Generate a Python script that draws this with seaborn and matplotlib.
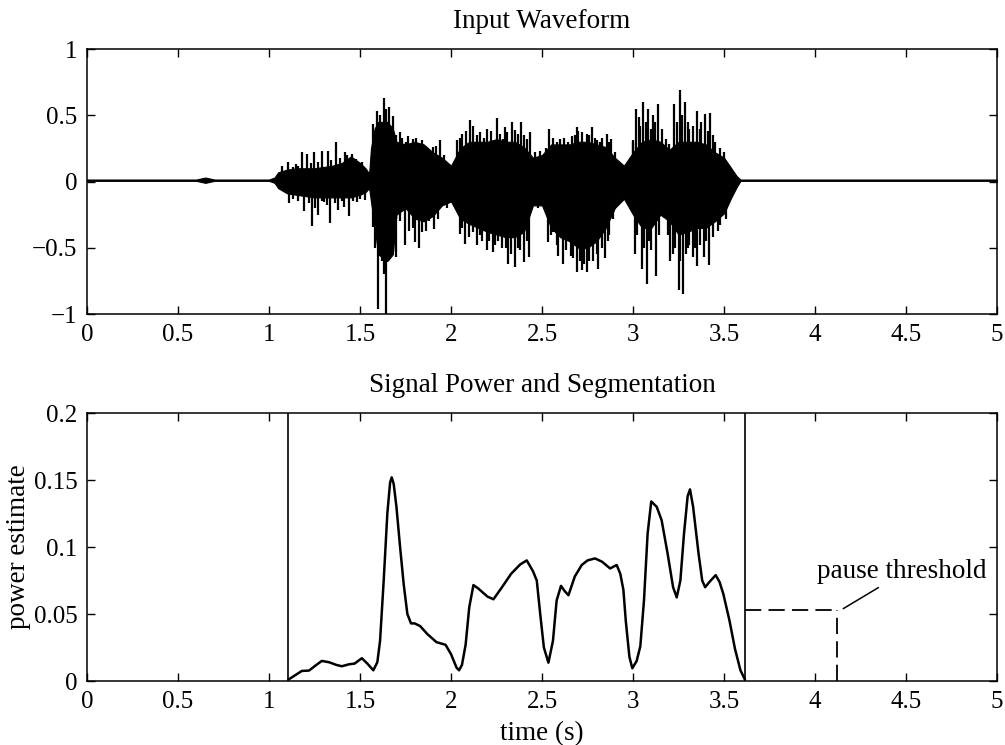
import matplotlib
matplotlib.use("Agg")
import matplotlib.pyplot as plt
import seaborn as sns
import pandas as pd

# ---- waveform (top panel) ----
# dense part of the waveform: upper / lower envelope
band_t = [0.0, 0.6, 0.65, 0.7, 1.0, 1.03, 1.05, 1.10, 1.15, 1.20, 1.25, 1.30, 1.35, 1.40,
          1.45, 1.50, 1.53, 1.55, 1.56, 1.58, 1.60, 1.65, 1.68, 1.70, 1.75, 1.80, 1.85,
          1.90, 1.95, 2.00, 2.05, 2.10, 2.15, 2.20, 2.25, 2.30, 2.35, 2.40, 2.45, 2.50,
          2.55, 2.60, 2.65, 2.70, 2.75, 2.80, 2.85, 2.90, 2.95, 3.00, 3.05, 3.10, 3.15,
          3.20, 3.25, 3.30, 3.35, 3.40, 3.45, 3.50, 3.54, 3.57, 3.59, 4.0, 5.0]
band_hi = [0.015, 0.015, 0.03, 0.015, 0.015, 0.03, 0.07, 0.09, 0.10, 0.10, 0.10, 0.11, 0.12, 0.14,
           0.19, 0.14, 0.10, 0.06, 0.25, 0.40, 0.45, 0.45, 0.40, 0.30, 0.28, 0.30, 0.28,
           0.22, 0.18, 0.12, 0.25, 0.30, 0.30, 0.30, 0.32, 0.30, 0.30, 0.26, 0.18, 0.20,
           0.28, 0.28, 0.28, 0.30, 0.30, 0.28, 0.26, 0.18, 0.12, 0.22, 0.30, 0.32, 0.30,
           0.24, 0.30, 0.30, 0.30, 0.28, 0.22, 0.18, 0.10, 0.04, 0.015, 0.015, 0.015]
band_lo = [0.005, 0.005, -0.01, 0.005, 0.005, -0.01, -0.05, -0.09, -0.10, -0.11, -0.12, -0.12, -0.12, -0.12,
           -0.12, -0.10, -0.08, -0.05, -0.15, -0.35, -0.55, -0.60, -0.55, -0.25, -0.20, -0.28, -0.30,
           -0.26, -0.18, -0.15, -0.28, -0.32, -0.35, -0.38, -0.40, -0.42, -0.42, -0.38, -0.18, -0.18,
           -0.35, -0.42, -0.45, -0.50, -0.50, -0.45, -0.35, -0.20, -0.13, -0.25, -0.35, -0.35, -0.25,
           -0.30, -0.40, -0.38, -0.35, -0.35, -0.30, -0.24, -0.12, -0.04, 0.005, 0.005, 0.005]

# individual peaks sticking out of the dense part
pos_t = [1.103, 1.18, 1.21, 1.249, 1.293, 1.322, 1.368, 1.418, 1.458, 1.509, 1.573, 1.592,
         1.634, 1.66, 1.679, 1.70, 1.72, 1.765, 1.79, 1.84, 1.87, 1.939, 2.031, 2.06, 2.104,
         2.12, 2.16, 2.196, 2.25, 2.288, 2.297, 2.333, 2.35, 2.383, 2.40, 2.434, 2.489, 2.54,
         2.56, 2.60, 2.64, 2.666, 2.694, 2.72, 2.745, 2.773, 2.80, 2.83, 2.855, 2.88, 2.998,
         3.016, 3.035, 3.057, 3.084, 3.11, 3.139, 3.16, 3.225, 3.258, 3.285, 3.31, 3.35,
         3.375, 3.395, 3.423, 3.45,
         1.07, 1.13, 1.15, 1.16, 1.23, 1.27, 1.34, 1.39, 1.43, 1.48, 1.61, 1.645, 1.73, 1.75,
         1.81, 1.82, 1.86, 1.90, 1.92, 1.96, 2.05, 2.08, 2.14, 2.18, 2.22, 2.27, 2.31, 2.37,
         2.42, 2.46, 2.52, 2.58, 2.62, 2.68, 2.70, 2.76, 2.79, 2.82, 2.87, 2.90, 3.00, 3.04,
         3.07, 3.10, 3.12, 3.18, 3.20, 3.24, 3.27, 3.30, 3.33, 3.37, 3.41, 3.44, 3.48, 3.50]
pos_v = [0.146, 0.22, 0.21, 0.226, 0.229, 0.234, 0.297, 0.22, 0.21, 0.146, 0.435, 0.536,
         0.631, 0.56, 0.498, 0.35, 0.37, 0.347, 0.32, 0.31, 0.22, 0.31, 0.31, 0.36, 0.465,
         0.42, 0.372, 0.397, 0.48, 0.32, 0.41, 0.448, 0.39, 0.448, 0.35, 0.372, 0.234, 0.397,
         0.33, 0.32, 0.30, 0.34, 0.41, 0.37, 0.36, 0.41, 0.31, 0.33, 0.36, 0.32, 0.317,
         0.548, 0.486, 0.60, 0.548, 0.50, 0.586, 0.40, 0.586, 0.687, 0.60, 0.40, 0.536,
         0.45, 0.51, 0.516, 0.30,
         0.12, 0.11, 0.13, 0.12, 0.14, 0.15, 0.16, 0.18, 0.20, 0.17, 0.50, 0.55, 0.33, 0.30,
         0.33, 0.28, 0.26, 0.26, 0.27, 0.20, 0.33, 0.38, 0.35, 0.33, 0.38, 0.36, 0.37, 0.36,
         0.32, 0.22, 0.25, 0.30, 0.33, 0.35, 0.38, 0.35, 0.33, 0.30, 0.30, 0.22, 0.30, 0.42,
         0.45, 0.40, 0.45, 0.32, 0.28, 0.45, 0.50, 0.45, 0.42, 0.40, 0.38, 0.35, 0.25, 0.22]
neg_t = [1.11, 1.194, 1.234, 1.27, 1.30, 1.335, 1.377, 1.414, 1.441, 1.482, 1.527, 1.57,
         1.601, 1.62, 1.64, 1.66, 1.68, 1.70, 1.747, 1.77, 1.802, 1.826, 1.86, 1.905, 2.049,
         2.077, 2.10, 2.144, 2.17, 2.196, 2.232, 2.26, 2.28, 2.315, 2.352, 2.38, 2.401, 2.43,
         2.535, 2.56, 2.59, 2.617, 2.66, 2.694, 2.72, 2.749, 2.78, 2.809, 2.846, 2.87, 3.011,
         3.048, 3.075, 3.10, 3.126, 3.203, 3.218, 3.25, 3.277, 3.30, 3.328, 3.35, 3.39,
         3.419, 3.469,
         1.13, 1.16, 1.22, 1.25, 1.29, 1.32, 1.36, 1.40, 1.46, 1.50, 1.58, 1.63, 1.72, 1.79,
         1.84, 1.88, 1.93, 1.98, 2.06, 2.12, 2.16, 2.21, 2.24, 2.30, 2.33, 2.37, 2.42, 2.48,
         2.55, 2.58, 2.63, 2.67, 2.71, 2.73, 2.76, 2.80, 2.83, 2.86, 2.89, 3.02, 3.06, 3.09,
         3.14, 3.19, 3.23, 3.26, 3.29, 3.31, 3.34, 3.37, 3.40, 3.44, 3.48, 3.51]
neg_v = [-0.164, -0.219, -0.332, -0.249, -0.156, -0.314, -0.214, -0.194, -0.264, -0.156, -0.143, -0.345,
         -0.961, -0.60, -1.0, -0.58, -0.53, -0.57, -0.48, -0.37, -0.46, -0.50, -0.37, -0.357, -0.395,
         -0.47, -0.42, -0.48, -0.45, -0.52, -0.53, -0.45, -0.50, -0.62, -0.646, -0.52, -0.61, -0.57,
         -0.46, -0.38, -0.56, -0.62, -0.56, -0.684, -0.67, -0.684, -0.60, -0.66, -0.58, -0.40, -0.55,
         -0.66, -0.77, -0.52, -0.71, -0.60, -0.546, -0.82, -0.85, -0.50, -0.57, -0.634, -0.57,
         -0.63, -0.37,
         -0.13, -0.15, -0.16, -0.20, -0.15, -0.18, -0.16, -0.15, -0.15, -0.13, -0.50, -0.70, -0.30, -0.35,
         -0.38, -0.30, -0.28, -0.20, -0.35, -0.38, -0.40, -0.45, -0.48, -0.50, -0.55, -0.50, -0.45, -0.20,
         -0.40, -0.48, -0.52, -0.58, -0.60, -0.62, -0.60, -0.55, -0.50, -0.45, -0.28, -0.40, -0.50, -0.45,
         -0.40, -0.40, -0.50, -0.60, -0.55, -0.48, -0.50, -0.48, -0.45, -0.42, -0.33, -0.28]

# ---- power estimate (bottom panel) ----
power_t = [1.106, 1.14, 1.18, 1.22, 1.25, 1.29, 1.33, 1.37, 1.40, 1.44, 1.47, 1.51, 1.54, 1.573,
           1.595, 1.61, 1.63, 1.65, 1.665, 1.674, 1.685, 1.70, 1.72, 1.74, 1.76, 1.78, 1.80,
           1.83, 1.87, 1.92, 1.97, 2.00, 2.03, 2.044, 2.06, 2.08, 2.10, 2.123, 2.15, 2.20,
           2.233, 2.28, 2.33, 2.38, 2.416, 2.45, 2.471, 2.49, 2.51, 2.535, 2.56, 2.58, 2.604,
           2.625, 2.645, 2.68, 2.718, 2.75, 2.791, 2.83, 2.874, 2.91, 2.93, 2.947, 2.96, 2.98,
           2.996, 3.02, 3.04, 3.06, 3.08, 3.10, 3.13, 3.157, 3.19, 3.22, 3.24, 3.26, 3.28,
           3.30, 3.313, 3.33, 3.36, 3.38, 3.396, 3.42, 3.454, 3.475, 3.496, 3.53, 3.56, 3.59, 3.615]
power_v = [0.001, 0.004, 0.0075, 0.0078, 0.011, 0.015, 0.014, 0.012, 0.011, 0.0125, 0.013, 0.017, 0.013, 0.008,
           0.014, 0.03, 0.075, 0.125, 0.148, 0.152, 0.147, 0.13, 0.10, 0.072, 0.05, 0.043, 0.043,
           0.041, 0.035, 0.029, 0.027, 0.02, 0.01, 0.008, 0.012, 0.027, 0.055, 0.0716, 0.069, 0.063,
           0.061, 0.070, 0.080, 0.087, 0.090, 0.082, 0.075, 0.05, 0.025, 0.0137, 0.03, 0.06, 0.071,
           0.067, 0.064, 0.078, 0.0866, 0.090, 0.0915, 0.089, 0.084, 0.0866, 0.08, 0.068, 0.045, 0.018,
           0.0095, 0.015, 0.026, 0.06, 0.11, 0.134, 0.13, 0.120, 0.095, 0.07, 0.0624, 0.075, 0.11,
           0.138, 0.143, 0.13, 0.095, 0.075, 0.070, 0.074, 0.079, 0.074, 0.065, 0.045, 0.024, 0.008, 0.001]

seg_bounds = [1.106, 3.615]
pause_threshold = 0.053
pause_end = 4.12

x_ticks = [0, 0.5, 1, 1.5, 2, 2.5, 3, 3.5, 4, 4.5, 5]
x_labels = ["0", "0.5", "1", "1.5", "2", "2.5", "3", "3.5", "4", "4.5", "5"]
wave_yticks = [-1, -0.5, 0, 0.5, 1]
wave_ylabels = ["\u22121", "\u22120.5", "0", "0.5", "1"]
pow_yticks = [0, 0.05, 0.1, 0.15, 0.2]
pow_ylabels = ["0", "0.05", "0.1", "0.15", "0.2"]

sns.set_theme(style="ticks")
plt.rcParams['font.family'] = ['Liberation Serif', 'DejaVu Serif']
plt.rcParams.update({
    'xtick.direction': 'in', 'ytick.direction': 'in',
    'xtick.top': True, 'ytick.right': True,
    'xtick.major.size': 6, 'ytick.major.size': 6,
    'xtick.major.width': 1.0, 'ytick.major.width': 1.0,
    'xtick.major.pad': 7, 'ytick.major.pad': 7,
    'axes.linewidth': 1.1, 'axes.edgecolor': 'black',
    'xtick.color': 'black', 'ytick.color': 'black',
    'text.color': 'black', 'axes.labelcolor': 'black',
    'font.size': 18,
})

fig = plt.figure(figsize=(10.05, 7.45), dpi=100)
ax1 = fig.add_axes([0.0866, 0.5785, 0.9055, 0.3557])
ax2 = fig.add_axes([0.0866, 0.0859, 0.9055, 0.3597])

# top: waveform
ax1.fill_between(band_t, band_lo, band_hi, color='black', linewidth=0.8)
ax1.vlines(pos_t, 0, pos_v, color='black', linewidth=1.6)
ax1.vlines(neg_t, 0, neg_v, color='black', linewidth=1.6)
ax1.set_xlim(0, 5)
ax1.set_ylim(-1, 1)
ax1.set_xticks(x_ticks, x_labels)
ax1.set_yticks(wave_yticks, wave_ylabels)
ax1.tick_params(labelsize=18)
ax1.set_title("Input Waveform", fontsize=19.5, pad=15, color='black')

# bottom: power + segmentation
df = pd.DataFrame({"t": power_t, "p": power_v})
sns.lineplot(data=df, x="t", y="p", ax=ax2, color='black', linewidth=1.8, sort=False)
for b in seg_bounds:
    ax2.axvline(b, color='black', linewidth=1.2)
ax2.hlines(pause_threshold, seg_bounds[1], pause_end, color='black', linewidth=1.3,
           linestyles=(0, (9, 4)))
ax2.vlines(pause_end, 0, pause_threshold, color='black', linewidth=1.3,
           linestyles=(0, (9, 4)))
ax2.annotate("pause threshold", xy=(pause_end + 0.035, pause_threshold + 0.001),
             xytext=(4.01, 0.0815), ha='left', va='center', fontsize=19.5, color='black',
             arrowprops=dict(arrowstyle='-', color='black', lw=1.1,
                             relpos=(0.42, 0.1), shrinkA=0, shrinkB=0))
ax2.set_xlim(0, 5)
ax2.set_ylim(0, 0.2)
ax2.set_xticks(x_ticks, x_labels)
ax2.set_yticks(pow_yticks, pow_ylabels)
ax2.tick_params(labelsize=18)
ax2.set_xlabel("time (s)", fontsize=19.5, labelpad=6)
ax2.set_ylabel("power estimate", fontsize=19.5, labelpad=2)
ax2.set_title("Signal Power and Segmentation", fontsize=19.5, pad=15, color='black')

fig.savefig("out.png", dpi=100)
